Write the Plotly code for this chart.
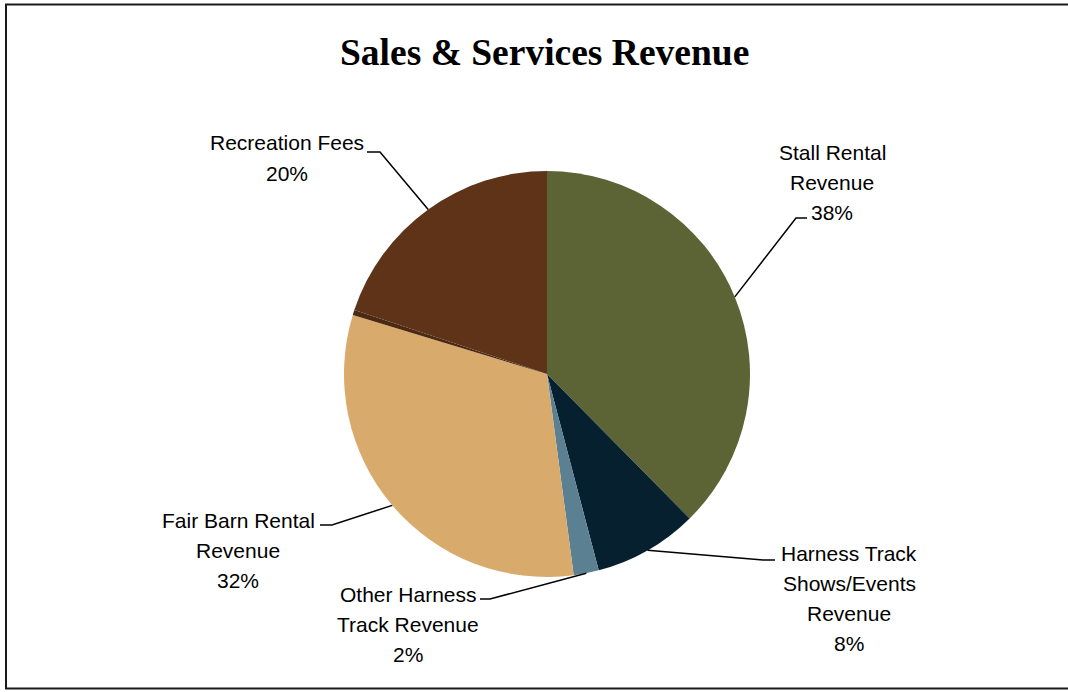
import math
import plotly.graph_objects as go

# Revenue shares by source (percent of sales & services revenue)
categories = [
    "Stall Rental Revenue",
    "Harness Track Shows/Events Revenue",
    "Other Harness Track Revenue",
    "Fair Barn Rental Revenue",
    "Miscellaneous",
    "Recreation Fees",
]
shares = [37.6, 8.3, 2.0, 31.8, 0.4, 19.9]
colors = ["#5C6334", "#06202F", "#5A8092", "#D8AA6C", "#4C2913", "#5E3318"]

# Label text lines for each labelled slice (None = unlabelled)
label_lines = [
    ["Stall Rental", "Revenue"],
    ["Harness Track", "Shows/Events", "Revenue"],
    ["Other Harness", "Track Revenue"],
    ["Fair Barn Rental", "Revenue"],
    None,
    ["Recreation Fees"],
]

W, H = 1068, 692
CX, CY, R = 547, 374, 203  # pie centre and radius in pixels

# Label block placement: (centre x, first-line y, elbow point, leader end point)
label_layout = [
    (832, 152, (796, 218), (807, 218)),
    (849, 553, (763, 560), (775, 560)),
    (408, 594, (490, 599), (480, 599)),
    (238, 520, (332, 525), (320, 525)),
    None,
    (287, 143, (380, 152), (367, 152)),
]
LINE_STEP = 30


def px(x):
    return x / W


def py(y):
    return 1 - y / H


fig = go.Figure(
    go.Pie(
        labels=categories,
        values=shares,
        sort=False,
        direction="clockwise",
        rotation=0,
        marker=dict(colors=colors, line=dict(width=0)),
        textinfo="none",
        showlegend=False,
        domain=dict(x=[px(CX - R), px(CX + R)], y=[py(CY + R), py(CY - R)]),
    )
)

total = sum(shares)
annotations = []
shapes = []
cum = 0.0
for val, lines, lay in zip(shares, label_lines, label_layout):
    mid = (cum + val / 2) / total
    cum += val
    if lines is None:
        continue
    cx, y0, elbow, end = lay
    text_lines = lines + [f"{round(val / total * 100)}%"]
    for i, t in enumerate(text_lines):
        annotations.append(dict(
            x=px(cx), y=py(y0 + i * LINE_STEP), xref="paper", yref="paper",
            text=t, showarrow=False, xanchor="center", yanchor="middle",
            font=dict(family="Liberation Sans", size=21, color="#000000"),
        ))
    theta = 2 * math.pi * mid
    ex = CX + R * math.sin(theta)
    ey = CY - R * math.cos(theta)
    path = f"M {px(ex)} {py(ey)} L {px(elbow[0])} {py(elbow[1])} L {px(end[0])} {py(end[1])}"
    shapes.append(dict(type="path", xref="paper", yref="paper", path=path,
                       line=dict(color="#000000", width=1.5)))

annotations.append(dict(
    x=px(544), y=py(53), xref="paper", yref="paper",
    text="<b>Sales & Services Revenue</b>", showarrow=False,
    xanchor="center", yanchor="middle",
    font=dict(family="Liberation Serif", size=37.5, color="#000000"),
))

# Chart frame
shapes.append(dict(type="rect", xref="paper", yref="paper",
                   x0=px(6), y0=py(688.5), x1=px(1075), y1=py(4.5),
                   line=dict(color="#1a1a1a", width=2), fillcolor="rgba(0,0,0,0)"))

fig.update_layout(
    width=W, height=H,
    margin=dict(l=0, r=0, t=0, b=0),
    paper_bgcolor="#ffffff", plot_bgcolor="#ffffff",
    annotations=annotations, shapes=shapes,
)

fig.write_html("out.html")
